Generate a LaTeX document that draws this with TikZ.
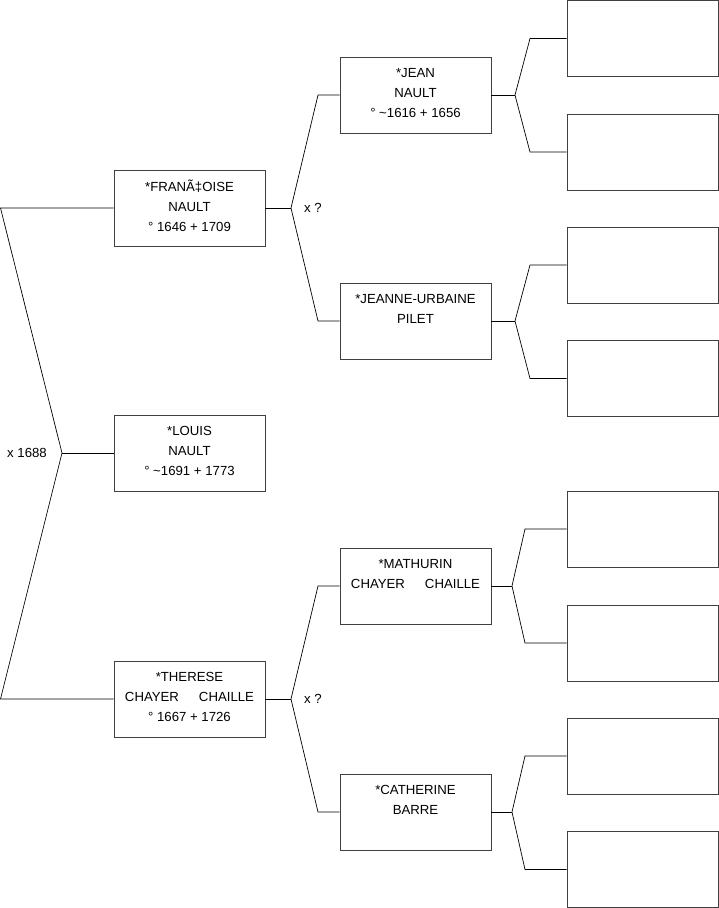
\documentclass[tikz,border=0pt]{standalone}
\usepackage{fontspec}
\setmainfont{Liberation Sans}
\usetikzlibrary{positioning}
\tikzstyle{person} = [rectangle, minimum width=151pt, minimum height=76pt, inner sep=0pt, text centered, align=center, draw=black!75, line width=0.8pt, fill=white, font=\fontsize{13.2}{20}\selectfont, execute at end node={\rule[-4pt]{0pt}{4pt}}]
\tikzstyle{branch} = [line width=0.7pt, black]
\tikzstyle{wedding} = [inner sep=0pt, font=\fontsize{13.2}{16}\selectfont]

\begin{document}
\begin{tikzpicture}[x=1pt, y=-1pt]
    \useasboundingbox (0,0) rectangle (719,908);
    % Nodes
    \node (louis) [person] at (189.5,453) {*LOUIS\\NAULT\\° \textasciitilde1691 + 1773};
    \node (francoise) [person] at (189.5,208) {*FRANÃ‡OISE\\NAULT\\° 1646 + 1709};
    \node (therese) [person] at (189.5,699) {*THERESE\\CHAYER\hspace{20pt}CHAILLE\\° 1667 + 1726};
    \node (jean) [person] at (415.5,95) {*JEAN\\NAULT\\° \textasciitilde1616 + 1656};
    \node (jeanne) [person] at (415.5,321) {*JEANNE-URBAINE\\PILET\\\mbox{}};
    \node (mathurin) [person] at (415.5,586) {*MATHURIN\\CHAYER\hspace{20pt}CHAILLE\\\mbox{}};
    \node (catherine) [person] at (415.5,812) {*CATHERINE\\BARRE\\\mbox{}};
    \node (g1) [person] at (642.5,38.5) {};
    \node (g2) [person] at (642.5,152) {};
    \node (g3) [person] at (642.5,265) {};
    \node (g4) [person] at (642.5,378.5) {};
    \node (g5) [person] at (642.5,529) {};
    \node (g6) [person] at (642.5,643) {};
    \node (g7) [person] at (642.5,756) {};
    \node (g8) [person] at (642.5,869.5) {};

    % Forks
    \coordinate (f0) at (62,453);
    \coordinate (f1) at (291,208);
    \coordinate (f2) at (291,699);
    \coordinate (f3) at (515,95);
    \coordinate (f4) at (515,321);
    \coordinate (f5) at (512,586);
    \coordinate (f6) at (512,812);
    \node (x0) [wedding, left=15pt of f0] {x 1688};
    \node (x1) [wedding, right=13pt of f1] {x ?};
    \node (x2) [wedding, right=13pt of f2] {x ?};

    % Lines
    \draw [branch] (francoise.west) -- (francoise.west -| 0.5,0) -- (f0) -- (therese.west -| 0.5,0) -- (therese.west);
    \draw [branch] (f0) -- (louis.west);
    \draw [branch] (francoise.east) -- (f1);
    \draw [branch] (jean.west) -- (jean.west -| 318,0) -- (f1) -- (jeanne.west -| 318,0) -- (jeanne.west);
    \draw [branch] (therese.east) -- (f2);
    \draw [branch] (mathurin.west) -- (mathurin.west -| 318,0) -- (f2) -- (catherine.west -| 318,0) -- (catherine.west);
    \draw [branch] (jean.east) -- (f3);
    \draw [branch] (g1.west) -- (g1.west -| 530,0) -- (f3) -- (g2.west -| 530,0) -- (g2.west);
    \draw [branch] (jeanne.east) -- (f4);
    \draw [branch] (g3.west) -- (g3.west -| 530,0) -- (f4) -- (g4.west -| 530,0) -- (g4.west);
    \draw [branch] (mathurin.east) -- (f5);
    \draw [branch] (g5.west) -- (g5.west -| 525,0) -- (f5) -- (g6.west -| 525,0) -- (g6.west);
    \draw [branch] (catherine.east) -- (f6);
    \draw [branch] (g7.west) -- (g7.west -| 525,0) -- (f6) -- (g8.west -| 525,0) -- (g8.west);
\end{tikzpicture}
\end{document}
